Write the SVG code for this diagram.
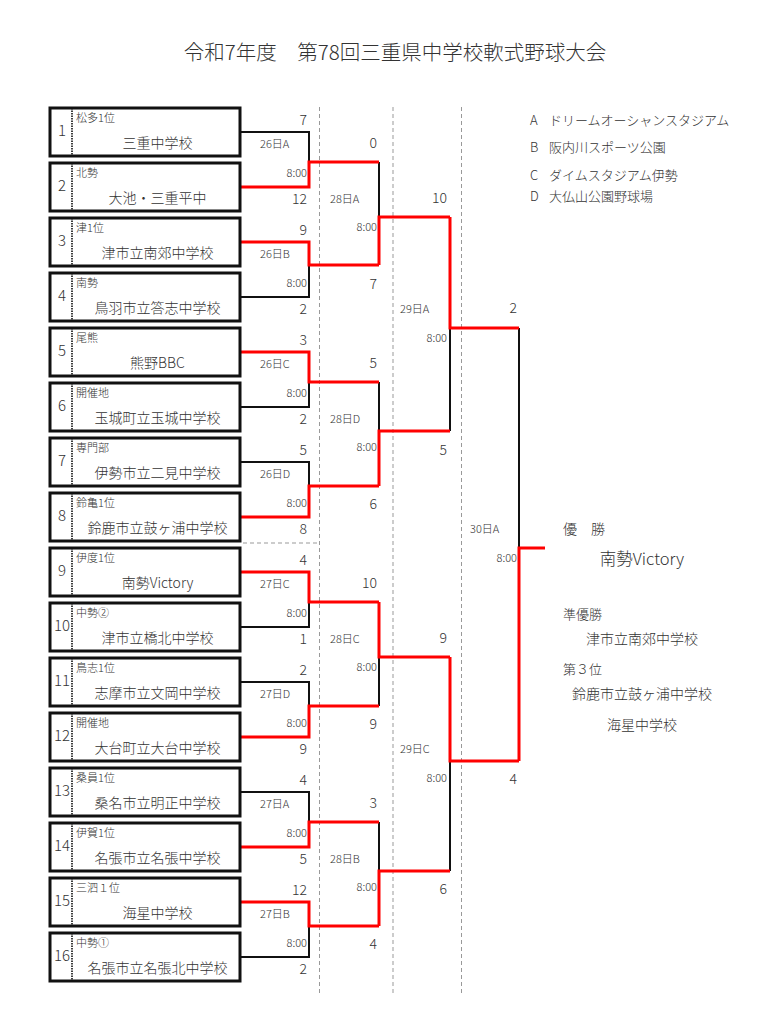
<svg xmlns="http://www.w3.org/2000/svg" width="768" height="1011" viewBox="0 0 768 1011">
<style>
text{font-family:"Noto Sans CJK JP","Liberation Sans",sans-serif;fill:#333;font-weight:300}
.box{fill:#fff;stroke:#111;stroke-width:3}
.div{stroke:#111;stroke-width:1.6;stroke-dasharray:1.5 1}
.num{font-size:15px;text-anchor:middle}
.sub{font-size:11px}
.name{font-size:14px;text-anchor:middle}
.sc{font-size:14px;text-anchor:end}
.dt{font-size:11px}
.tm{font-size:11px;text-anchor:end}
.blk{fill:none;stroke:#111;stroke-width:2}
.red{fill:none;stroke:#ff0000;stroke-width:3}
.grid{stroke:#999;stroke-width:1;stroke-dasharray:4 3;fill:none}
.leg{font-size:13px}
</style>
<rect width="768" height="1011" fill="#fff"/>
<text x="395" y="60" style="font-size:20.5px;text-anchor:middle">令和7年度　第78回三重県中学校軟式野球大会</text>

<g id="grid">
<line class="grid" x1="319.5" y1="107" x2="319.5" y2="995"/>
<line class="grid" x1="393" y1="107" x2="393" y2="995"/>
<line class="grid" x1="461.5" y1="107" x2="461.5" y2="995"/>
<line class="grid" x1="243" y1="543" x2="319.5" y2="543"/>
</g>

<g id="connectors">
<polyline class="blk" points="241,132 309,132 309,162"/>
<polyline class="blk" points="241,297 309,297 309,265"/>
<polyline class="blk" points="241,407 309,407 309,382"/>
<polyline class="blk" points="241,462 309,462 309,486"/>
<polyline class="blk" points="379,162 379,217"/>
<polyline class="blk" points="379,382 379,431"/>
<polyline class="blk" points="450,328 450,431"/>
<polyline class="blk" points="519,328 519,548"/>
<polyline class="blk" points="241,627 309,627 309,602"/>
<polyline class="blk" points="241,682 309,682 309,706"/>
<polyline class="blk" points="241,792 309,792 309,822"/>
<polyline class="blk" points="241,957 309,957 309,926"/>
<polyline class="blk" points="379,657 379,706"/>
<polyline class="blk" points="379,822 379,871"/>
<polyline class="blk" points="450,761 450,871"/>

<polyline class="red" points="241,187 309,187 309,162 379,162"/>
<polyline class="red" points="241,242 309,242 309,265 379,265"/>
<polyline class="red" points="241,352 309,352 309,382 379,382"/>
<polyline class="red" points="241,517 309,517 309,486 379,486"/>
<polyline class="red" points="379,265 379,217 450,217"/>
<polyline class="red" points="379,486 379,431 450,431"/>
<polyline class="red" points="450,217 450,328 519,328"/>
<polyline class="red" points="519,761 519,548 545,548"/>
<polyline class="red" points="241,572 309,572 309,602 379,602"/>
<polyline class="red" points="241,737 309,737 309,706 379,706"/>
<polyline class="red" points="241,847 309,847 309,822 379,822"/>
<polyline class="red" points="241,902 309,902 309,926 379,926"/>
<polyline class="red" points="379,602 379,657 450,657"/>
<polyline class="red" points="379,926 379,871 450,871"/>
<polyline class="red" points="450,657 450,761 519,761"/>
</g>

<g id="box1"><rect class="box" x="50" y="108" width="190" height="48"/><line class="div" x1="72" y1="108" x2="72" y2="156"/><text class="num" x="62" y="136">1</text><text class="sub" x="76" y="122">松多1位</text><text class="name" x="157.5" y="148">三重中学校</text></g>
<g id="box2"><rect class="box" x="50" y="163" width="190" height="48"/><line class="div" x1="72" y1="163" x2="72" y2="211"/><text class="num" x="62" y="191">2</text><text class="sub" x="76" y="177">北勢</text><text class="name" x="157.5" y="203">大池・三重平中</text></g>
<g id="box3"><rect class="box" x="50" y="218" width="190" height="48"/><line class="div" x1="72" y1="218" x2="72" y2="266"/><text class="num" x="62" y="246">3</text><text class="sub" x="76" y="232">津1位</text><text class="name" x="157.5" y="258">津市立南郊中学校</text></g>
<g id="box4"><rect class="box" x="50" y="273" width="190" height="48"/><line class="div" x1="72" y1="273" x2="72" y2="321"/><text class="num" x="62" y="301">4</text><text class="sub" x="76" y="287">南勢</text><text class="name" x="157.5" y="313">鳥羽市立答志中学校</text></g>
<g id="box5"><rect class="box" x="50" y="328" width="190" height="48"/><line class="div" x1="72" y1="328" x2="72" y2="376"/><text class="num" x="62" y="356">5</text><text class="sub" x="76" y="342">尾熊</text><text class="name" x="157.5" y="368">熊野BBC</text></g>
<g id="box6"><rect class="box" x="50" y="383" width="190" height="48"/><line class="div" x1="72" y1="383" x2="72" y2="431"/><text class="num" x="62" y="411">6</text><text class="sub" x="76" y="397">開催地</text><text class="name" x="157.5" y="423">玉城町立玉城中学校</text></g>
<g id="box7"><rect class="box" x="50" y="438" width="190" height="48"/><line class="div" x1="72" y1="438" x2="72" y2="486"/><text class="num" x="62" y="466">7</text><text class="sub" x="76" y="452">専門部</text><text class="name" x="157.5" y="478">伊勢市立二見中学校</text></g>
<g id="box8"><rect class="box" x="50" y="493" width="190" height="48"/><line class="div" x1="72" y1="493" x2="72" y2="541"/><text class="num" x="62" y="521">8</text><text class="sub" x="76" y="507">鈴亀1位</text><text class="name" x="157.5" y="533">鈴鹿市立鼓ヶ浦中学校</text></g>
<g id="box9"><rect class="box" x="50" y="548" width="190" height="48"/><line class="div" x1="72" y1="548" x2="72" y2="596"/><text class="num" x="62" y="576">9</text><text class="sub" x="76" y="562">伊度1位</text><text class="name" x="157.5" y="588">南勢Victory</text></g>
<g id="box10"><rect class="box" x="50" y="603" width="190" height="48"/><line class="div" x1="72" y1="603" x2="72" y2="651"/><text class="num" x="62" y="631">10</text><text class="sub" x="76" y="617">中勢②</text><text class="name" x="157.5" y="643">津市立橋北中学校</text></g>
<g id="box11"><rect class="box" x="50" y="658" width="190" height="48"/><line class="div" x1="72" y1="658" x2="72" y2="706"/><text class="num" x="62" y="686">11</text><text class="sub" x="76" y="672">鳥志1位</text><text class="name" x="157.5" y="698">志摩市立文岡中学校</text></g>
<g id="box12"><rect class="box" x="50" y="713" width="190" height="48"/><line class="div" x1="72" y1="713" x2="72" y2="761"/><text class="num" x="62" y="741">12</text><text class="sub" x="76" y="727">開催地</text><text class="name" x="157.5" y="753">大台町立大台中学校</text></g>
<g id="box13"><rect class="box" x="50" y="768" width="190" height="48"/><line class="div" x1="72" y1="768" x2="72" y2="816"/><text class="num" x="62" y="796">13</text><text class="sub" x="76" y="782">桑員1位</text><text class="name" x="157.5" y="808">桑名市立明正中学校</text></g>
<g id="box14"><rect class="box" x="50" y="823" width="190" height="48"/><line class="div" x1="72" y1="823" x2="72" y2="871"/><text class="num" x="62" y="851">14</text><text class="sub" x="76" y="837">伊賀1位</text><text class="name" x="157.5" y="863">名張市立名張中学校</text></g>
<g id="box15"><rect class="box" x="50" y="878" width="190" height="48"/><line class="div" x1="72" y1="878" x2="72" y2="926"/><text class="num" x="62" y="906">15</text><text class="sub" x="76" y="892">三泗１位</text><text class="name" x="157.5" y="918">海星中学校</text></g>
<g id="box16"><rect class="box" x="50" y="933" width="190" height="48"/><line class="div" x1="72" y1="933" x2="72" y2="981"/><text class="num" x="62" y="961">16</text><text class="sub" x="76" y="947">中勢①</text><text class="name" x="157.5" y="973">名張市立名張北中学校</text></g>

<g id="round1-labels">
<text class="sc" x="307" y="125">7</text><text class="dt" x="260" y="148">26日A</text><text class="tm" x="307" y="177">8:00</text><text class="sc" x="307" y="204">12</text>
<text class="sc" x="307" y="235">9</text><text class="dt" x="260" y="258">26日B</text><text class="tm" x="307" y="287">8:00</text><text class="sc" x="307" y="314">2</text>
<text class="sc" x="307" y="345">3</text><text class="dt" x="260" y="368">26日C</text><text class="tm" x="307" y="397">8:00</text><text class="sc" x="307" y="424">2</text>
<text class="sc" x="307" y="455">5</text><text class="dt" x="260" y="478">26日D</text><text class="tm" x="307" y="507">8:00</text><text class="sc" x="307" y="534">8</text>
<text class="sc" x="307" y="565">4</text><text class="dt" x="260" y="588">27日C</text><text class="tm" x="307" y="617">8:00</text><text class="sc" x="307" y="644">1</text>
<text class="sc" x="307" y="675">2</text><text class="dt" x="260" y="698">27日D</text><text class="tm" x="307" y="727">8:00</text><text class="sc" x="307" y="754">9</text>
<text class="sc" x="307" y="785">4</text><text class="dt" x="260" y="808">27日A</text><text class="tm" x="307" y="837">8:00</text><text class="sc" x="307" y="864">5</text>
<text class="sc" x="307" y="895">12</text><text class="dt" x="260" y="918">27日B</text><text class="tm" x="307" y="947">8:00</text><text class="sc" x="307" y="974">2</text>
</g>
<g id="round2-labels">
<text class="sc" x="377" y="148">0</text><text class="dt" x="330" y="203">28日A</text><text class="tm" x="377" y="231">8:00</text><text class="sc" x="377" y="289">7</text>
<text class="sc" x="377" y="368">5</text><text class="dt" x="330" y="423">28日D</text><text class="tm" x="377" y="451">8:00</text><text class="sc" x="377" y="509">6</text>
<text class="sc" x="377" y="588">10</text><text class="dt" x="330" y="643">28日C</text><text class="tm" x="377" y="671">8:00</text><text class="sc" x="377" y="729">9</text>
<text class="sc" x="377" y="808">3</text><text class="dt" x="330" y="863">28日B</text><text class="tm" x="377" y="891">8:00</text><text class="sc" x="377" y="949">4</text>
</g>
<g id="round3-labels">
<text class="sc" x="447" y="203">10</text><text class="dt" x="400" y="313">29日A</text><text class="tm" x="447" y="342">8:00</text><text class="sc" x="447" y="455">5</text>
<text class="sc" x="447" y="643">9</text><text class="dt" x="400" y="753">29日C</text><text class="tm" x="447" y="782">8:00</text><text class="sc" x="447" y="894">6</text>
</g>
<g id="final-labels">
<text class="sc" x="517" y="313">2</text><text class="dt" x="470" y="533">30日A</text><text class="tm" x="517" y="562">8:00</text><text class="sc" x="517" y="784">4</text>
</g>

<g id="legend">
<text class="leg" x="530" y="125">A</text><text class="leg" x="549" y="125">ドリームオーシャンスタジアム</text>
<text class="leg" x="530" y="152">B</text><text class="leg" x="549" y="152">阪内川スポーツ公園</text>
<text class="leg" x="530" y="180">C</text><text class="leg" x="549" y="180">ダイムスタジアム伊勢</text>
<text class="leg" x="530" y="201">D</text><text class="leg" x="549" y="201">大仏山公園野球場</text>
</g>

<g id="results">
<text x="563" y="534" style="font-size:14px">優　勝</text>
<text x="642" y="565" style="font-size:16.5px;text-anchor:middle">南勢Victory</text>
<text x="563" y="619" style="font-size:13px">準優勝</text>
<text x="642" y="644" style="font-size:14px;text-anchor:middle">津市立南郊中学校</text>
<text x="563" y="674" style="font-size:13px">第３位</text>
<text x="642" y="699" style="font-size:14px;text-anchor:middle">鈴鹿市立鼓ヶ浦中学校</text>
<text x="642" y="730" style="font-size:14px;text-anchor:middle">海星中学校</text>
</g>
</svg>
